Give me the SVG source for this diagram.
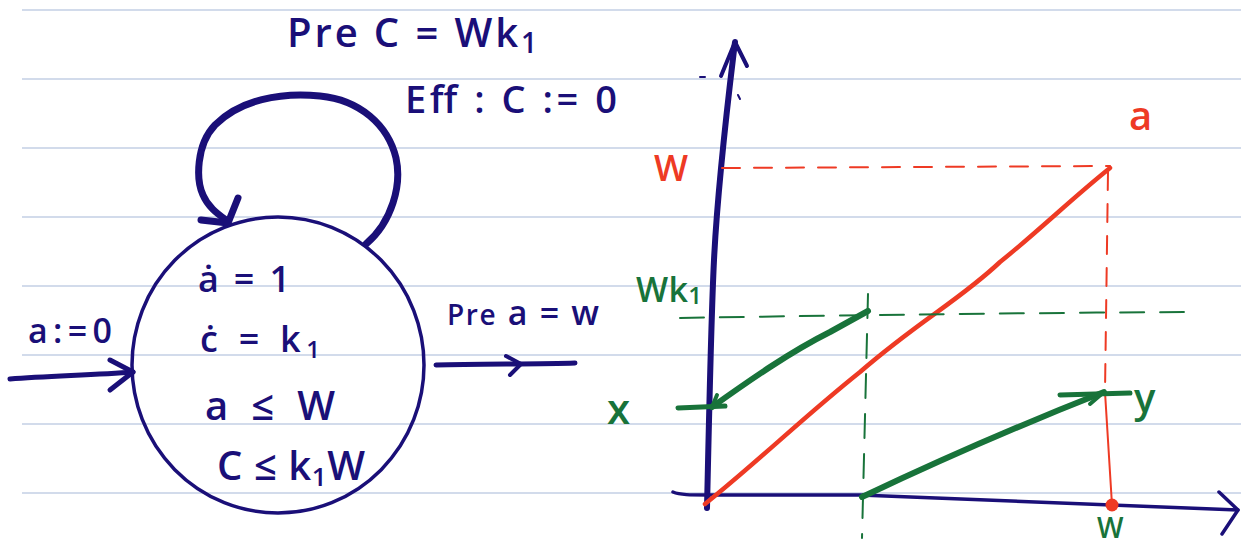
<svg xmlns="http://www.w3.org/2000/svg" width="1241" height="550" viewBox="0 0 1241 550">
<style>
.rule{stroke:#c3cfe4;stroke-width:1.6}
.nv{fill:none;stroke:#1a0f78;stroke-linecap:round;stroke-linejoin:round}
.rd{fill:none;stroke:#ee3a24;stroke-linecap:round;stroke-linejoin:round}
.gr{fill:none;stroke:#18733a;stroke-linecap:round;stroke-linejoin:round}
.t{font-family:"Open Sans","Liberation Sans",sans-serif;font-weight:600;fill:#1a0f78}
.tr{font-family:"Open Sans","Liberation Sans",sans-serif;font-weight:600;fill:#ee3a24}
.tg{font-family:"Open Sans","Liberation Sans",sans-serif;font-weight:600;fill:#18733a}
</style>
<rect width="1241" height="550" fill="#ffffff"/>
<g id="ruled-lines">
<line class="rule" x1="22" y1="10" x2="1241" y2="10"/>
<line class="rule" x1="22" y1="79" x2="1241" y2="79"/>
<line class="rule" x1="22" y1="148" x2="1241" y2="148"/>
<line class="rule" x1="22" y1="217" x2="1241" y2="217"/>
<line class="rule" x1="22" y1="286" x2="1241" y2="286"/>
<line class="rule" x1="22" y1="355" x2="1241" y2="355"/>
<line class="rule" x1="22" y1="424" x2="1241" y2="424"/>
<line class="rule" x1="22" y1="493" x2="1241" y2="493"/>
</g>
<g id="state">
<ellipse class="nv" cx="278" cy="365" rx="146" ry="148" stroke-width="3.5"/>
<text class="t" x="198" y="292" font-size="36" textLength="92" lengthAdjust="spacing">ȧ = 1</text>
<text class="t" x="200" y="352" font-size="36" textLength="120" lengthAdjust="spacing">ċ = k<tspan font-size="24" dy="6">1</tspan></text>
<text class="t" x="205" y="420" font-size="40" textLength="130" lengthAdjust="spacing">a ≤ W</text>
<text class="t" x="217" y="480" font-size="40" textLength="148" lengthAdjust="spacing">C ≤ k<tspan font-size="26" dy="6">1</tspan><tspan dy="-6">W</tspan></text>
</g>
<g id="connectors">
<path id="self-loop" class="nv" stroke-width="7" d="M366 244 C392 222 402 185 396 158 C388 125 360 100 320 96 C280 92 240 100 215 125 C196 145 196 180 203 195 C208 207 218 214 226 220"/>
<path class="nv" stroke-width="7" d="M201 220 L228 223 L238 198"/>
<path id="init-arrow" class="nv" stroke-width="5" d="M10 379 C50 376 95 375 133 372"/>
<path class="nv" stroke-width="5" d="M110 360 L133 372 L110 390"/>
<path id="exit-arrow" class="nv" stroke-width="5" d="M436 365 C480 364 540 364 575 363"/>
<path class="nv" stroke-width="4" d="M506 356 L521 364 L510 375"/>
</g>
<g id="labels">
<text class="t" x="287" y="47" font-size="40" textLength="250" lengthAdjust="spacing">Pre C = Wk<tspan font-size="28" dy="6">1</tspan></text>
<text class="t" x="405" y="113" font-size="38" textLength="212" lengthAdjust="spacing">Eff : C := 0</text>
<text class="t" x="28" y="343" font-size="34" textLength="84" lengthAdjust="spacing">a:=0</text>
<text class="t" x="447" y="325" font-size="34" textLength="152" lengthAdjust="spacing"><tspan font-size="28">Pre</tspan> a = w</text>
</g>
<g id="graph">
<path id="y-axis" class="nv" stroke-width="6" d="M707 508 C709 420 711 320 714 260 C718 180 728 100 735 42"/>
<path class="nv" stroke-width="4" d="M721 76 L735 42 L747 66"/>
<path id="x-axis" class="nv" stroke-width="3.5" d="M673 492 C680 495 690 495 708 495 L860 495 C950 498 1050 503 1238 510"/>
<path class="nv" stroke-width="3.5" d="M1219 492 L1238 510 L1222 534"/>
<path id="line-a" class="rd" stroke-width="4.5" d="M705 504 C760 460 800 420 860 372 C920 320 960 300 1000 262 C1040 230 1070 200 1110 168"/>
<path class="rd" stroke-width="2" stroke-dasharray="18 14" d="M722 168 L1110 166"/>
<path class="rd" stroke-width="2" stroke-dasharray="18 14" d="M1108 172 L1105 392"/>
<path class="rd" stroke-width="2" d="M1105 392 L1112 505"/>
<circle cx="1112" cy="505" r="6.5" fill="#ee3a24"/>
<path class="gr" stroke-width="2" stroke-dasharray="24 16" d="M680 318 C800 316 1000 313 1185 312"/>
<path class="gr" stroke-width="2" stroke-dasharray="24 16" d="M868 294 L862 538"/>
<path class="gr" stroke-width="6" d="M868 311 L830 332 C790 352 750 380 712 407"/>
<path class="gr" stroke-width="4" d="M712 407 L717 395"/>
<path class="gr" stroke-width="5" d="M678 408 L725 406"/>
<path class="gr" stroke-width="6" d="M862 497 C940 460 1020 425 1104 392"/>
<path class="gr" stroke-width="4" d="M1104 392 L1090 404"/>
<path class="gr" stroke-width="5" d="M1060 395 L1130 393"/>
<path class="nv" stroke-width="2" d="M700 77 L705 77 M738 95 L740 99"/>
<text class="tr" x="654" y="181" font-size="36">W</text>
<text class="tr" x="1129" y="130" font-size="40">a</text>
<text class="tg" x="636" y="302" font-size="34" textLength="66" lengthAdjust="spacing">Wk<tspan font-size="24" dy="2">1</tspan></text>
<text class="tg" x="607" y="424" font-size="42">x</text>
<text class="tg" x="1134" y="412" font-size="40">y</text>
<text class="tg" x="1097" y="538" font-size="28">W</text>
</g>
</svg>
